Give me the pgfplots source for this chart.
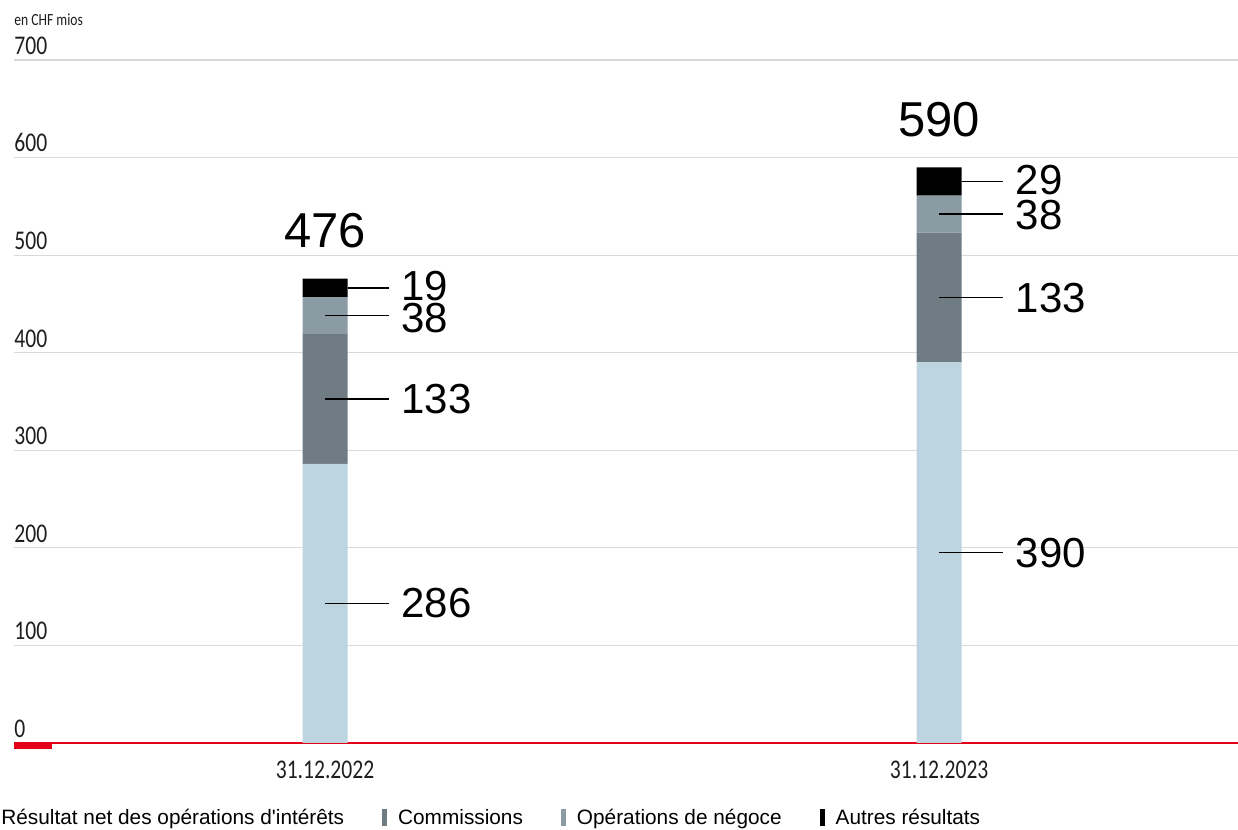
\documentclass[border=0pt]{standalone}
\usepackage{pgfplots}
\pgfplotsset{compat=1.18}
\usepackage{fontspec}
\setmainfont{Liberation Sans}
\newfontfamily\condfont[FakeStretch=0.8]{Carlito}

\definecolor{cblue}{RGB}{189,213,224}
\definecolor{cdark}{RGB}{111,124,132}
\definecolor{cmid}{RGB}{138,155,164}
\definecolor{cred}{RGB}{226,0,26}
\definecolor{cgrid}{RGB}{217,217,217}
\definecolor{ctext}{RGB}{30,30,30}

\pgfplotsset{
  base/.style={
    scale only axis, width=612pt, height=341.5pt,
    xmin=-0.5065, xmax=1.4866, ymin=0, ymax=700,
    at={(0pt,0pt)}, anchor=south west, clip=false,
  },
}

\begin{document}
\begin{tikzpicture}
\useasboundingbox (-7pt,-43.5pt) rectangle (612pt,371.5pt);

\begin{axis}[
  base,
  ybar stacked,
  bar width=22.5pt,
  axis line style={draw=none},
  major tick length=0pt,
  /pgf/number format/assume math mode=true,
  ytick={100,200,...,700},
  ymajorgrids,
  grid style={cgrid, line width=0.6pt},
  extra y ticks={0},
  extra y tick style={grid style={cred, line width=1pt}},
  yticklabel style={anchor=south west, inner sep=0pt, yshift=2.5pt,
    font=\condfont\fontsize{13.5}{14}\selectfont, text=ctext},
  xtick={0,1},
  xticklabels={31.12.2022,31.12.2023},
  xticklabel style={anchor=north, inner sep=0pt, yshift=-9pt,
    font=\condfont\fontsize{13.5}{14}\selectfont, text=ctext},
  legend columns=-1,
  legend image code/.code={\fill[#1] (0pt,-4pt) rectangle (2.5pt,4.5pt);},
  legend style={at={(rel axis cs:0,0)}, anchor=west, xshift=-14.5pt, yshift=-37.5pt,
    draw=none, fill=none, inner sep=0pt, font=\fontsize{10.4}{12}\selectfont,
    nodes={inner sep=0pt},
    /tikz/every odd column/.append style={column sep=5.5pt},
    /tikz/every even column/.append style={column sep=19pt}},
]
\addplot[fill=cblue, draw=none] coordinates {(0,286) (1,390)};
\addplot[fill=cdark, draw=none] coordinates {(0,133) (1,133)};
\addplot[fill=cmid, draw=none] coordinates {(0,38) (1,38)};
\addplot[fill=black, draw=none] coordinates {(0,19) (1,29)};
\legend{R\'esultat net des op\'erations d\textquotesingle int\'er\^ets, Commissions, Op\'erations de n\'egoce, Autres r\'esultats}
\end{axis}

\begin{axis}[base, hide axis]
% leader lines
\addplot[black, line width=0.75pt] coordinates {(0,143) (0.1034,143)};
\addplot[black, line width=0.75pt] coordinates {(0,352.5) (0.1034,352.5)};
\addplot[black, line width=0.75pt] coordinates {(0,438) (0.1034,438)};
\addplot[black, line width=0.75pt] coordinates {(0.0366,466.5) (0.1034,466.5)};
\addplot[black, line width=0.75pt] coordinates {(1,195) (1.1034,195)};
\addplot[black, line width=0.75pt] coordinates {(1,456.5) (1.1034,456.5)};
\addplot[black, line width=0.75pt] coordinates {(1,542) (1.1034,542)};
\addplot[black, line width=0.75pt] coordinates {(1.0366,575.5) (1.1034,575.5)};
% segment values
\addplot[draw=none, mark=none, nodes near coords, point meta=explicit symbolic,
  nodes near coords style={anchor=west, inner sep=0pt, font=\fontsize{21}{24}\selectfont}]
  coordinates {(0.124,143)[286] (0.124,352.5)[133] (0.124,436)[38] (0.124,468)[19]
               (1.124,195)[390] (1.124,456.5)[133] (1.124,541)[38] (1.124,577)[29]};
% totals
\addplot[draw=none, mark=none, nodes near coords, point meta=explicit symbolic,
  nodes near coords style={anchor=base, inner sep=0pt, yshift=15.5pt, font=\fontsize{24.5}{26}\selectfont}]
  coordinates {(0,476)[476] (1,590)[590]};
\end{axis}

\fill[cred] (0pt,0.5pt) rectangle (19pt,-3pt);
\node[anchor=west, inner sep=0pt, font=\condfont\fontsize{8.5}{10}\selectfont, text=ctext] at (0pt,361.5pt) {en CHF mios};
\end{tikzpicture}
\end{document}
